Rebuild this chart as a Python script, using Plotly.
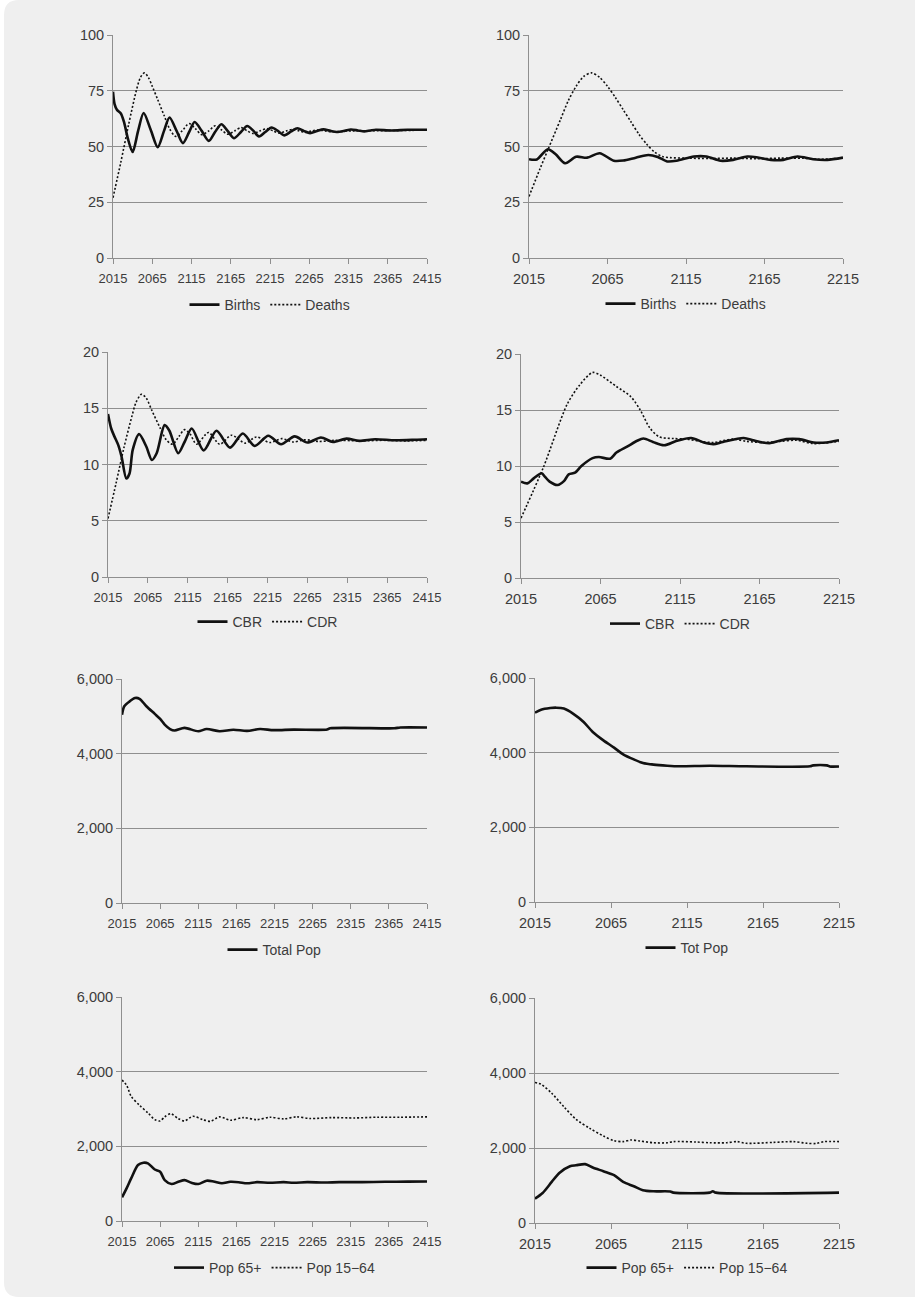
import plotly.graph_objects as go

# ---------------- data ----------------
p1_birth_years = [2015, 2017, 2020, 2025, 2029, 2034, 2040, 2047, 2054, 2063, 2072, 2080, 2087, 2096, 2104, 2112, 2119, 2128, 2137, 2145, 2153, 2161, 2169, 2178, 2186, 2194, 2201, 2209, 2217, 2225, 2233, 2242, 2250, 2258, 2266, 2275, 2283, 2292, 2300, 2310, 2318, 2327, 2335, 2343, 2350, 2370, 2390, 2415]
p1_births = [74.6, 69.0, 66.5, 64.8, 61.0, 53.5, 47.5, 57.0, 65.0, 57.5, 49.7, 57.0, 63.0, 57.0, 51.5, 56.5, 61.0, 57.0, 52.5, 56.5, 60.0, 57.0, 53.7, 56.5, 59.2, 57.0, 54.5, 56.5, 58.5, 57.0, 55.0, 56.8, 58.2, 57.0, 56.0, 57.0, 57.7, 57.0, 56.5, 57.0, 57.6, 57.2, 56.8, 57.2, 57.5, 57.2, 57.5, 57.5]
p1_death_years = [2015, 2025, 2035, 2045, 2050, 2055, 2060, 2065, 2072, 2080, 2087, 2095, 2103, 2112, 2120, 2128, 2137, 2145, 2153, 2161, 2170, 2178, 2186, 2194, 2202, 2211, 2219, 2227, 2236, 2244, 2252, 2260, 2268, 2277, 2285, 2293, 2320, 2350, 2380, 2415]
p1_deaths = [27.0, 43.0, 60.0, 75.5, 81.0, 83.0, 81.0, 77.0, 71.0, 64.0, 58.0, 54.5, 57.0, 60.3, 58.0, 55.3, 57.0, 59.3, 57.5, 55.5, 57.0, 58.5, 57.0, 55.8, 57.0, 58.0, 57.0, 56.0, 57.0, 57.7, 57.0, 56.3, 57.0, 57.4, 57.0, 56.6, 57.0, 57.1, 57.2, 57.3]

p2_birth_years = [2015, 2020, 2027, 2032, 2038, 2045, 2052, 2060, 2069, 2075, 2083, 2091, 2097, 2103, 2109, 2120, 2128, 2137, 2145, 2154, 2160, 2169, 2177, 2186, 2196, 2205, 2215]
p2_births = [44.3, 44.2, 48.8, 46.5, 42.5, 45.4, 45.0, 47.0, 43.6, 43.7, 45.0, 46.2, 45.3, 43.3, 43.6, 45.5, 45.5, 43.6, 44.0, 45.5, 45.2, 44.0, 44.0, 45.5, 44.3, 44.0, 45.0]
p2_death_years = [2015, 2022, 2027, 2035, 2040, 2045, 2050, 2055, 2060, 2065, 2070, 2075, 2080, 2085, 2090, 2095, 2100, 2105, 2115, 2130, 2145, 2160, 2175, 2190, 2200, 2215]
p2_deaths = [27.6, 40.0, 48.5, 62.0, 70.5, 77.0, 81.5, 83.0, 81.0, 77.0, 72.0, 66.5, 61.0, 55.5, 51.0, 47.5, 45.5, 45.0, 44.8, 44.6, 44.8, 44.5, 44.8, 44.7, 44.3, 44.8]

p3_cbr_years = [2015, 2019, 2023, 2028, 2032, 2038, 2042, 2046, 2054, 2063, 2070, 2076, 2086, 2092, 2103, 2111, 2120, 2135, 2151, 2168, 2184, 2199, 2216, 2232, 2249, 2265, 2282, 2297, 2314, 2330, 2350, 2375, 2400, 2415]
p3_cbr = [14.5, 13.2, 12.5, 11.7, 10.7, 8.75, 9.2, 11.3, 12.7, 11.6, 10.4, 11.0, 13.5, 13.0, 11.0, 12.0, 13.2, 11.25, 13.0, 11.5, 12.75, 11.65, 12.55, 11.8, 12.5, 11.95, 12.4, 12.0, 12.3, 12.1, 12.25, 12.15, 12.2, 12.25]
p3_cdr_years = [2015, 2025, 2035, 2045, 2050, 2057, 2063, 2070, 2080, 2088, 2096, 2104, 2111, 2118, 2126, 2141, 2155, 2170, 2187, 2201, 2218, 2233, 2247, 2262, 2280, 2300, 2330, 2360, 2390, 2415]
p3_cdr = [5.2, 8.3, 11.5, 14.3, 15.5, 16.25, 15.9, 14.8, 13.3, 12.2, 11.8, 12.5, 13.1, 12.7, 11.8, 12.85, 11.8, 12.6, 11.9, 12.45, 11.95, 12.3, 12.0, 12.2, 12.05, 12.15, 12.1, 12.15, 12.1, 12.15]

p4_cbr_years = [2015, 2019, 2023, 2028, 2030, 2033, 2038, 2042, 2045, 2049, 2053, 2060, 2064, 2071, 2075, 2082, 2088, 2092, 2098, 2105, 2113, 2122, 2130, 2136, 2142, 2155, 2161, 2167, 2172, 2182, 2190, 2199, 2207, 2215]
p4_cbr = [8.6, 8.45, 8.9, 9.35, 9.05, 8.6, 8.3, 8.65, 9.25, 9.4, 10.0, 10.7, 10.8, 10.65, 11.2, 11.75, 12.25, 12.45, 12.15, 11.85, 12.25, 12.5, 12.1, 11.95, 12.15, 12.5, 12.3, 12.1, 12.05, 12.4, 12.4, 12.1, 12.1, 12.3]
p4_cdr_years = [2015, 2029, 2044, 2052, 2060, 2065, 2075, 2084, 2090, 2096, 2102, 2111, 2119, 2128, 2136, 2148, 2157, 2167, 2178, 2188, 2199, 2215]
p4_cdr = [5.35, 9.85, 15.5, 17.25, 18.35, 18.1, 17.1, 16.2, 15.0, 13.4, 12.6, 12.45, 12.4, 12.2, 12.1, 12.4, 12.2, 12.1, 12.2, 12.3, 12.0, 12.2]

p5_years = [2015, 2018, 2025, 2032, 2038, 2047, 2058, 2065, 2071, 2078, 2084, 2097, 2115, 2126, 2143, 2161, 2179, 2196, 2214, 2240, 2284, 2288, 2372, 2380, 2415]
p5_total = [5045, 5270, 5400, 5490, 5470, 5270, 5065, 4930, 4780, 4660, 4620, 4690, 4600, 4660, 4600, 4640, 4610, 4660, 4630, 4645, 4645, 4680, 4680, 4700, 4700]

p6_years = [2015, 2019, 2025, 2029, 2034, 2040, 2047, 2053, 2060, 2067, 2073, 2080, 2086, 2093, 2102, 2110, 2130, 2154, 2196, 2198, 2207, 2209, 2215]
p6_total = [5070, 5150, 5195, 5205, 5180, 5045, 4820, 4555, 4330, 4135, 3955, 3820, 3725, 3680, 3650, 3635, 3650, 3635, 3635, 3660, 3660, 3630, 3630]

p7_years65 = [2015, 2021, 2027, 2036, 2043, 2049, 2058, 2065, 2071, 2080, 2089, 2097, 2106, 2115, 2126, 2135, 2146, 2157, 2168, 2179, 2192, 2209, 2227, 2240, 2258, 2280, 2300, 2330, 2360, 2390, 2415]
p7_pop65 = [633, 875, 1140, 1500, 1560, 1545, 1380, 1320, 1095, 990, 1050, 1095, 1025, 990, 1080, 1060, 1010, 1050, 1040, 1010, 1040, 1025, 1040, 1025, 1040, 1030, 1040, 1040, 1050, 1055, 1060]
p7_years1564 = [2015, 2021, 2027, 2038, 2049, 2058, 2065, 2071, 2079, 2089, 2097, 2108, 2121, 2131, 2143, 2157, 2174, 2192, 2209, 2227, 2244, 2262, 2290, 2320, 2350, 2380, 2415]
p7_pop1564 = [3775, 3640, 3340, 3100, 2895, 2715, 2680, 2790, 2875, 2740, 2680, 2805, 2715, 2670, 2790, 2700, 2770, 2715, 2780, 2735, 2790, 2745, 2770, 2760, 2780, 2780, 2790]

p8_years65 = [2015, 2020, 2026, 2031, 2038, 2042, 2048, 2053, 2060, 2067, 2073, 2080, 2086, 2093, 2104, 2106, 2130, 2132, 2134, 2215]
p8_pop65 = [650, 800, 1095, 1335, 1515, 1540, 1570, 1480, 1380, 1275, 1095, 980, 875, 845, 840, 810, 810, 845, 810, 810]
p8_years1564 = [2015, 2019, 2026, 2034, 2042, 2051, 2060, 2067, 2073, 2078, 2084, 2093, 2102, 2106, 2121, 2130, 2141, 2148, 2154, 2172, 2185, 2194, 2200, 2205, 2215]
p8_pop1564 = [3745, 3700, 3460, 3100, 2765, 2525, 2320, 2195, 2170, 2215, 2185, 2140, 2140, 2170, 2160, 2140, 2140, 2170, 2125, 2150, 2170, 2125, 2120, 2170, 2170]

x_ticks_long = [2015, 2065, 2115, 2165, 2215, 2265, 2315, 2365, 2415]
x_ticks_short = [2015, 2065, 2115, 2165, 2215]
y_ticks_births = [0, 25, 50, 75, 100]
y_ticks_rates = [0, 5, 10, 15, 20]
y_ticks_pop = [0, 2000, 4000, 6000]

# ---------------- layout helpers ----------------
W, H = 915, 1297
def fx(px):
    return px / W
def fy(py):
    return 1 - py / H

# (left, right, top, bottom, legend_y) in pixels
boxes = [
    (113, 427, 35, 258, 305),
    (529, 843, 35, 258, 304),
    (108, 427, 352, 577, 622),
    (521, 839, 354, 578, 624),
    (122, 427, 679, 903, 950),
    (535, 839, 678, 902, 948),
    (122, 427, 997, 1221, 1268),
    (535, 839, 998, 1223, 1268),
]

panels = [
    dict(series=[(p1_birth_years, p1_births, "Births", "solid"), (p1_death_years, p1_deaths, "Deaths", "dot")],
         xt=x_ticks_long, yt=y_ticks_births),
    dict(series=[(p2_birth_years, p2_births, "Births", "solid"), (p2_death_years, p2_deaths, "Deaths", "dot")],
         xt=x_ticks_short, yt=y_ticks_births),
    dict(series=[(p3_cbr_years, p3_cbr, "CBR", "solid"), (p3_cdr_years, p3_cdr, "CDR", "dot")],
         xt=x_ticks_long, yt=y_ticks_rates),
    dict(series=[(p4_cbr_years, p4_cbr, "CBR", "solid"), (p4_cdr_years, p4_cdr, "CDR", "dot")],
         xt=x_ticks_short, yt=y_ticks_rates),
    dict(series=[(p5_years, p5_total, "Total Pop", "solid")],
         xt=x_ticks_long, yt=y_ticks_pop),
    dict(series=[(p6_years, p6_total, "Tot Pop", "solid")],
         xt=x_ticks_short, yt=y_ticks_pop),
    dict(series=[(p7_years65, p7_pop65, "Pop 65+", "solid"), (p7_years1564, p7_pop1564, "Pop 15\u221264", "dot")],
         xt=x_ticks_long, yt=y_ticks_pop),
    dict(series=[(p8_years65, p8_pop65, "Pop 65+", "solid"), (p8_years1564, p8_pop1564, "Pop 15\u221264", "dot")],
         xt=x_ticks_short, yt=y_ticks_pop),
]

FONT = "Liberation Sans, Arial, sans-serif"
TXT = "#3c3c3c"
GRID = "#8f8f8f"
BG = "#efefef"

fig = go.Figure()
layout = dict(
    template="none",
    width=W, height=H,
    margin=dict(l=0, r=0, t=0, b=0, pad=0, autoexpand=False),
    paper_bgcolor="white",
    plot_bgcolor="rgba(0,0,0,0)",
    font=dict(family=FONT, color=TXT, size=14),
    showlegend=True,
)

for i, (pan, box) in enumerate(zip(panels, boxes), start=1):
    l, r, t, b, ly = box
    sfx = "" if i == 1 else str(i)
    leg = "legend" if i == 1 else f"legend{i}"
    left_col = (i % 2 == 1)
    for xs, ys, name, dash in pan["series"]:
        fig.add_trace(go.Scatter(
            x=xs, y=ys, name=name, mode="lines",
            xaxis="x" + sfx, yaxis="y" + sfx, legend=leg,
            line=dict(color="#111111", width=2.6 if dash == "solid" else 1.6,
                      dash="solid" if dash == "solid" else "2px,2px",
                      shape="spline", smoothing=0.8),
            hoverinfo="skip",
        ))
    layout["xaxis" + sfx] = dict(
        domain=[fx(l), fx(r)], anchor="y" + sfx,
        range=[pan["xt"][0], pan["xt"][-1]],
        tickmode="array", tickvals=pan["xt"],
        showgrid=False, zeroline=False, automargin=False,
        showline=True, linecolor=GRID, linewidth=1,
        ticks="outside", ticklen=5, tickcolor=GRID, tickwidth=1,
        ticklabelstandoff=3,
        tickfont=dict(size=13 if left_col else 14.5, color=TXT),
        fixedrange=True,
    )
    layout["yaxis" + sfx] = dict(
        domain=[fy(b), fy(t)], anchor="x" + sfx,
        range=[pan["yt"][0], pan["yt"][-1]],
        tickmode="array", tickvals=pan["yt"], tickformat=",d",
        showgrid=True, gridcolor=GRID, gridwidth=1,
        zeroline=False, automargin=False,
        showline=True, linecolor=GRID, linewidth=1,
        ticks="outside", ticklen=5, tickcolor=GRID, tickwidth=1,
        tickfont=dict(size=14.5, color=TXT),
        fixedrange=True,
    )
    layout[leg] = dict(
        orientation="h", x=fx((l + r) / 2), xanchor="center",
        y=fy(ly), yanchor="middle",
        bgcolor="rgba(0,0,0,0)", borderwidth=0,
        font=dict(size=14, color=TXT, family=FONT),
        itemwidth=30, tracegroupgap=0,
    )

rad = 15
path = (f"M {fx(4)},{fy(rad)} Q {fx(4)},{fy(0)} {fx(4 + rad)},{fy(0)} "
        f"L {fx(925)},{fy(0)} L {fx(925)},{fy(1300)} "
        f"L {fx(4 + rad)},{fy(1297)} Q {fx(4)},{fy(1297)} {fx(4)},{fy(1297 - rad)} Z")
layout["shapes"] = [dict(type="path", path=path, xref="paper", yref="paper",
                         fillcolor=BG, line=dict(width=0), layer="below")]

fig.update_layout(**layout)
fig.write_html("out.html",
               config={"displayModeBar": False, "responsive": False},
               post_script="document.body.style.margin='0';document.body.style.overflow='hidden';")
